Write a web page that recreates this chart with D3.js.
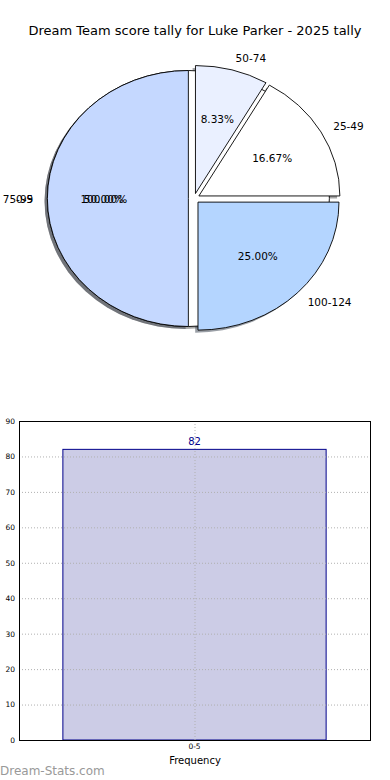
<!DOCTYPE html>
<html>
<head>
<meta charset="utf-8">
<script src="https://cdn.jsdelivr.net/npm/d3@7"></script>
<style>
  body { margin: 0; background: #fff; }
  text { font-family: "DejaVu Sans", sans-serif; }
</style>
</head>
<body>
<div class="canvas"></div>
<script>
const chartTitle = 'Dream Team score tally for Luke Parker - 2025 tally';

// first pie: a single bin covering everything
const binLabels = ['0-5'];
const binCounts = [82];
const binColors = ['#ffffff'];

// second pie: score ranges
const rangeLabels = ['25-49', '50-74', '75-99', '100-124'];
const rangeCounts = [2, 1, 6, 3];
const rangeColors = ['#ffffff', '#eaf0ff', '#c5d8ff', '#b4d5ff'];

// frequency bar chart
const barCats = ['0-5'];
const barValues = [82];
const yTicks = [0, 10, 20, 30, 40, 50, 60, 70, 80, 90];

const svg = d3.select('.canvas')
  .append('svg')
  .attr('width', 390)
  .attr('height', 780);

svg.append('text')
  .attr('x', 195).attr('y', 30)
  .attr('text-anchor', 'middle')
  .attr('dominant-baseline', 'central')
  .attr('font-size', 13)
  .text(chartTitle);

// =================== PIE ===================
const pc = { x: 194, y: 198.5, rx: 141, ry: 128 };
const explode = 0.04;
const shadowOff = 0.02;

// start at east, go counter clockwise (like matplotlib)
const pie = d3.pie()
  .sort(null)
  .startAngle(Math.PI / 2)
  .endAngle(Math.PI / 2 - 2 * Math.PI);

const arcPath = d3.arc().innerRadius(0).outerRadius(1);

const mid = d => (d.startAngle + d.endAngle) / 2;
const ux = (d, r) => r * Math.sin(mid(d));
const uy = (d, r) => -r * Math.cos(mid(d));

const binArcs = pie(binCounts).map((d, i) => ({ ...d, label: binLabels[i], color: binColors[i], total: d3.sum(binCounts) }));
const rangeArcs = pie(rangeCounts).map((d, i) => ({ ...d, label: rangeLabels[i], color: rangeColors[i], total: d3.sum(rangeCounts) }));
const allArcs = binArcs.concat(rangeArcs);

const pieG = svg.append('g')
  .attr('transform', `translate(${pc.x}, ${pc.y})`);

// shadows go under everything
pieG.selectAll('path.shadow')
  .data(allArcs)
  .enter().append('path')
    .attr('class', 'shadow')
    .attr('d', arcPath)
    .attr('transform', d => `translate(${(ux(d, explode) - shadowOff) * pc.rx}, ${(uy(d, explode) + shadowOff) * pc.ry}) scale(${pc.rx}, ${pc.ry})`)
    .attr('fill', d => { const c = d3.rgb(d.color); return d3.rgb(c.r * 0.3, c.g * 0.3, c.b * 0.3); })
    .attr('fill-opacity', 0.5);

pieG.selectAll('path.wedge')
  .data(allArcs)
  .enter().append('path')
    .attr('class', 'wedge')
    .attr('d', arcPath)
    .attr('transform', d => `translate(${ux(d, explode) * pc.rx}, ${uy(d, explode) * pc.ry}) scale(${pc.rx}, ${pc.ry})`)
    .attr('fill', d => d.color)
    .attr('stroke', '#000')
    .attr('stroke-width', 0.9)
    .attr('vector-effect', 'non-scaling-stroke');

// outside labels
pieG.selectAll('text.name')
  .data(allArcs)
  .enter().append('text')
    .attr('class', 'name')
    .attr('x', d => ux(d, explode + 1.1) * pc.rx)
    .attr('y', d => uy(d, explode + 1.1) * pc.ry)
    .attr('text-anchor', d => ux(d, 1) > 0 ? 'start' : 'end')
    .attr('dominant-baseline', 'central')
    .attr('font-size', 10.5)
    .text(d => d.label);

// percentages
pieG.selectAll('text.pct')
  .data(allArcs)
  .enter().append('text')
    .attr('class', 'pct')
    .attr('x', d => ux(d, explode + 0.6) * pc.rx)
    .attr('y', d => uy(d, explode + 0.6) * pc.ry)
    .attr('text-anchor', 'middle')
    .attr('dominant-baseline', 'central')
    .attr('font-size', 10.5)
    .text(d => d3.format('.2f')(d.value / d.total * 100) + '%');

// =================== BARS ===================
const box = { left: 19, right: 370, top: 421, bottom: 740 };

const x = d3.scaleBand()
  .domain(barCats)
  .range([box.left, box.right])
  .paddingInner(0.25)
  .paddingOuter(0.125);

const y = d3.scaleLinear()
  .domain([0, 90])
  .range([box.bottom, box.top]);

svg.selectAll('rect.bar')
  .data(barValues)
  .enter().append('rect')
    .attr('class', 'bar')
    .attr('x', (d, i) => x(barCats[i]))
    .attr('width', x.bandwidth())
    .attr('y', d => y(d))
    .attr('height', d => y(0) - y(d))
    .attr('fill', '#ccccE6')
    .attr('stroke', '#00008b')
    .attr('stroke-width', 1);

// grid on top of the bar
const grid = svg.append('g');
grid.selectAll('line.h')
  .data(yTicks)
  .enter().append('line')
    .attr('x1', box.left).attr('x2', box.right)
    .attr('y1', d => y(d) + 0.5).attr('y2', d => y(d) + 0.5)
    .attr('stroke', '#b0b0b0')
    .attr('stroke-dasharray', '1,2');
grid.selectAll('line.v')
  .data(barCats)
  .enter().append('line')
    .attr('x1', d => x(d) + x.bandwidth() / 2 + 0.5).attr('x2', d => x(d) + x.bandwidth() / 2 + 0.5)
    .attr('y1', box.top).attr('y2', box.bottom)
    .attr('stroke', '#b0b0b0')
    .attr('stroke-dasharray', '1,2');

svg.selectAll('text.val')
  .data(barValues)
  .enter().append('text')
    .attr('class', 'val')
    .attr('x', (d, i) => x(barCats[i]) + x.bandwidth() / 2)
    .attr('y', d => y(d) - 4)
    .attr('text-anchor', 'middle')
    .attr('font-size', 10)
    .attr('fill', '#00008b')
    .text(d => d);

svg.append('rect')
  .attr('x', box.left + 0.5).attr('y', box.top + 0.5)
  .attr('width', box.right - box.left).attr('height', box.bottom - box.top)
  .attr('fill', 'none')
  .attr('stroke', '#000')
  .attr('stroke-width', 1);

const yAxis = svg.append('g')
  .attr('transform', `translate(${box.left}, 0)`)
  .call(d3.axisLeft(y).tickValues(yTicks).tickSize(0).tickPadding(4));
yAxis.select('.domain').remove();
yAxis.selectAll('text').attr('font-size', 7.5).attr('fill', '#000').attr('font-family', '"DejaVu Sans", sans-serif');

const xAxis = svg.append('g')
  .attr('transform', `translate(0, ${box.bottom})`)
  .call(d3.axisBottom(x).tickSize(0).tickPadding(4));
xAxis.select('.domain').remove();
xAxis.selectAll('text').attr('font-size', 7.5).attr('fill', '#000').attr('font-family', '"DejaVu Sans", sans-serif');

svg.append('text')
  .attr('x', 195).attr('y', 764)
  .attr('text-anchor', 'middle')
  .attr('font-size', 10)
  .text('Frequency');

svg.append('text')
  .attr('x', 0).attr('y', 775)
  .attr('font-size', 12)
  .attr('fill', '#999')
  .text('Dream-Stats.com');
</script>
</body>
</html>
